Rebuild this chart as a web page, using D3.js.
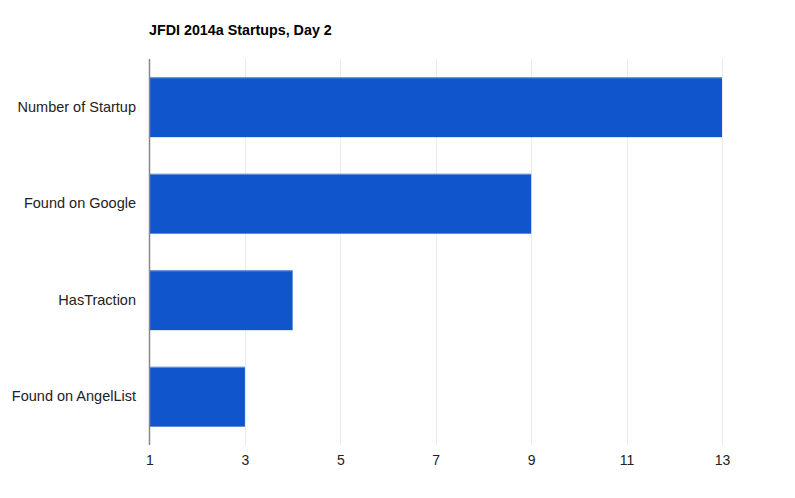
<!DOCTYPE html>
<html>
<head>
<meta charset="utf-8">
<script src="https://cdn.jsdelivr.net/npm/d3@7"></script>
<style>
  body { margin: 0; background: #fff; }
  text { font-family: Arial, "Liberation Sans", sans-serif; }
</style>
</head>
<body>
<div id="chart"></div>
<script>
'use strict';

var categories = ['Number of Startup', 'Found on Google', 'HasTraction', 'Found on AngelList'];
var values = [13, 9, 4, 3];
var xTicks = [1, 3, 5, 7, 9, 11, 13];

var width = 795, height = 498;
var plotLeft = 149.5, plotRight = 722, plotTop = 59, plotBottom = 445;

var svg = d3.select('#chart')
            .append('svg')
            .attr('width', width)
            .attr('height', height);

var x = d3.scaleLinear().domain([1, 13]).range([plotLeft, plotRight]);
var y = d3.scaleBand().domain(categories).range([plotTop, plotBottom]).paddingInner(0.38).paddingOuter(0.19);

// Title
svg.append('text')
   .attr('x', 149)
   .attr('y', 35)
   .attr('font-size', 14.3)
   .attr('font-weight', 'bold')
   .attr('fill', '#000')
   .text('JFDI 2014a Startups, Day 2');

// Gridlines
svg.append('g')
   .selectAll('line')
   .data(xTicks.slice(1))
   .enter()
   .append('line')
   .attr('x1', function(d) { return Math.round(x(d)) + 0.5; })
   .attr('x2', function(d) { return Math.round(x(d)) + 0.5; })
   .attr('y1', plotTop)
   .attr('y2', plotBottom)
   .attr('stroke', '#ebebeb')
   .attr('stroke-width', 1);

// Bars
svg.append('g')
   .selectAll('rect')
   .data(values)
   .enter()
   .append('rect')
   .attr('x', x(1))
   .attr('y', function(d, i) { return y(categories[i]); })
   .attr('width', function(d) { return x(d) - x(1); })
   .attr('height', y.bandwidth())
   .attr('fill', '#1155cc');

// Light top edge of bars
svg.append('g')
   .selectAll('line')
   .data(values)
   .enter()
   .append('line')
   .attr('x1', x(1))
   .attr('x2', function(d) { return x(d); })
   .attr('y1', function(d, i) { return y(categories[i]) + 0.5; })
   .attr('y2', function(d, i) { return y(categories[i]) + 0.5; })
   .attr('stroke', '#7096dd')
   .attr('stroke-width', 1);

// Baseline
svg.append('line')
   .attr('x1', 149.5)
   .attr('x2', 149.5)
   .attr('y1', plotTop)
   .attr('y2', plotBottom)
   .attr('stroke', '#888')
   .attr('stroke-width', 1.5);

// Category labels
var yAxis = svg.append('g')
   .attr('transform', 'translate(' + (plotLeft - 13.5) + ',0)')
   .call(d3.axisLeft(y).tickSize(0).tickPadding(0));
yAxis.select('.domain').remove();
yAxis.selectAll('text')
     .attr('font-size', 14.5)
     .attr('fill', '#222')
     .style('font-family', 'Arial, "Liberation Sans", sans-serif');

// X axis labels
var xAxis = svg.append('g')
   .attr('transform', 'translate(0,' + plotBottom + ')')
   .call(d3.axisBottom(x).tickValues(xTicks).tickSize(0).tickPadding(10));
xAxis.select('.domain').remove();
xAxis.selectAll('text')
     .attr('font-size', 14)
     .attr('fill', '#222')
     .style('font-family', 'Arial, "Liberation Sans", sans-serif');
</script>
</body>
</html>
